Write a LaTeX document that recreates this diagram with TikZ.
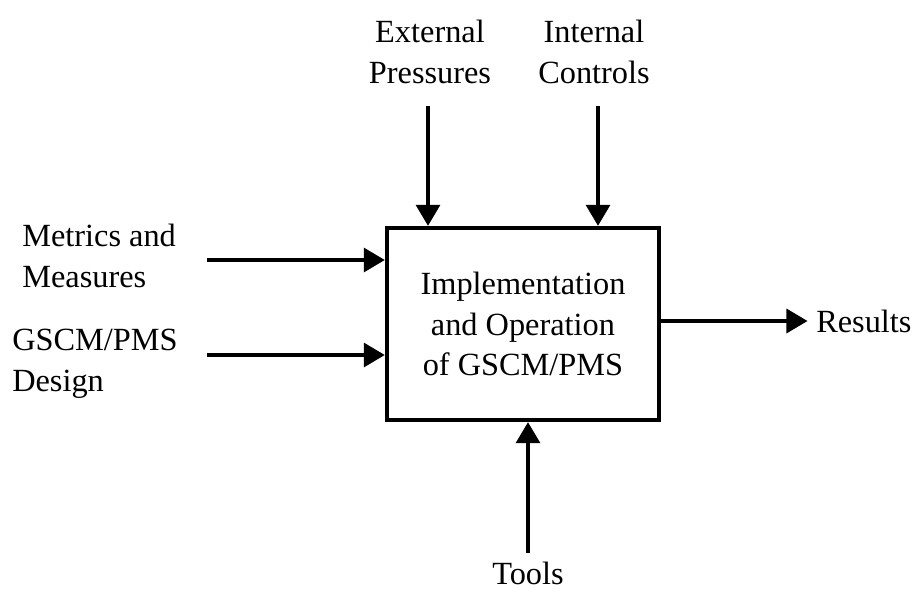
\documentclass[tikz,border=0pt]{standalone}
\usepackage{fontspec}
\setmainfont{Liberation Serif}
\usetikzlibrary{arrows.meta, positioning}

\tikzset{
  lbl/.style={font=\fontsize{23}{29}\selectfont, align=center, inner sep=0pt},
  flow/.style={line width=2.6pt, -{Triangle[length=15pt,width=17pt]}},
}

\begin{document}
\begin{tikzpicture}[x=0.025cm, y=-0.025cm]
  \useasboundingbox (0,0) rectangle (922,594);

  % --- central process box ---
  \node[draw, line width=3pt, minimum width=6.8cm, minimum height=4.8cm,
        lbl] (proc) at (523,324) {Implementation\\and Operation\\of GSCM/PMS};

  % --- controls from above ---
  \node[lbl] (extp) at (430,52) {External\\Pressures};
  \node[lbl] (intc) at (594,52) {Internal\\Controls};
  \coordinate (extin) at (428,106);
  \coordinate (intin) at (598,106);
  \draw[flow] (extin) -- (extin |- proc.north);
  \draw[flow] (intin) -- (intin |- proc.north);

  % --- inputs from the left ---
  \node[lbl, align=left, anchor=west] (metr) at (22,256) {Metrics and\\Measures};
  \node[lbl, align=left, anchor=west] (dsgn) at (12,364) {GSCM/PMS\\Design};
  \coordinate (metin) at (207,260);
  \coordinate (dsgin) at (207,355);
  \draw[flow] (metin) -- (metin -| proc.west);
  \draw[flow] (dsgin) -- (dsgin -| proc.west);

  % --- output and mechanism ---
  \node[lbl, anchor=west] (res) at (816,321) {Results};
  \draw[flow] (proc.east |- res.west) -- ([xshift=-6pt]res.west);

  \node[lbl, anchor=north] (tools) at (528,562) {Tools};
  \coordinate (toolout) at (528,553);
  \draw[flow] (toolout) -- (toolout |- proc.south);
\end{tikzpicture}
\end{document}
